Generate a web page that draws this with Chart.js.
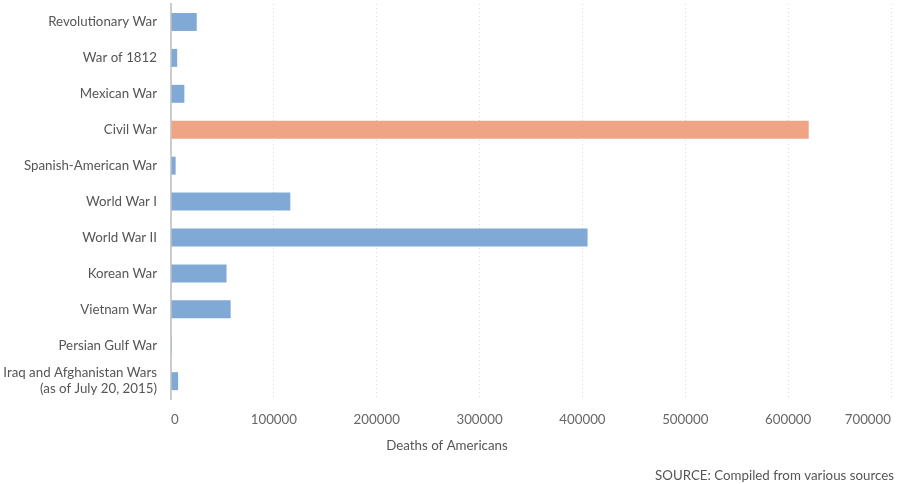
<!DOCTYPE html>
<html>
<head>
<meta charset="utf-8">
<script src="https://cdn.jsdelivr.net/npm/chart.js@4/dist/chart.umd.min.js"></script>
<style>
  html, body { margin: 0; padding: 0; background: #fff; }
  #wrap { width: 904px; height: 484px; }
</style>
</head>
<body>
<div id="wrap"><canvas id="warchart"></canvas></div>
<script>
// wars, top to bottom
var wars = [
    'Revolutionary War',
    'War of 1812',
    'Mexican War',
    'Civil War',
    'Spanish-American War',
    'World War I',
    'World War II',
    'Korean War',
    'Vietnam War',
    'Persian Gulf War',
    ['Iraq and Afghanistan Wars', '(as of July 20, 2015)']
]
var deaths = [25000, 6000, 13000, 620000, 4500, 116000, 405000, 54000, 58000, 150, 6900]
var xTicks = [0, 100000, 200000, 300000, 400000, 500000, 600000, 700000]

var blue = '#80a9d6'
var salmon = '#efa486'
var barColors = deaths.map(function (d, i) { return i === 3 ? salmon : blue })

Chart.defaults.font.family = 'Lato, "Open Sans", sans-serif'
Chart.defaults.color = '#666'

var config = {
    type: 'bar',
    data: {
        labels: wars,
        datasets: [{
            data: deaths,
            backgroundColor: barColors,
            borderColor: barColors,
            borderWidth: 0,
            barPercentage: 0.5,
            categoryPercentage: 1
        }]
    },
    options: {
        indexAxis: 'y',
        responsive: true,
        maintainAspectRatio: false,
        animation: false,
        layout: { padding: { left: 0, right: 10, top: 4, bottom: 0 } },
        plugins: {
            legend: { display: false },
            tooltip: { enabled: false },
            subtitle: {
                display: true,
                position: 'bottom',
                text: 'Deaths of Americans',
                color: '#555',
                font: { size: 13.3 },
                padding: { top: 10, bottom: 13 }
            },
            title: {
                display: true,
                position: 'bottom',
                align: 'end',
                text: 'SOURCE: Compiled from various sources',
                color: '#555',
                font: { size: 13.3, weight: 'normal' },
                padding: { top: 1, bottom: 0 }
            }
        },
        scales: {
            x: {
                min: 0,
                max: 700000,
                afterBuildTicks: function (scale) {
                    scale.ticks = xTicks.map(function (v) { return { value: v } })
                },
                afterFit: function (scale) { scale.height -= 13 },
                ticks: {
                    align: 'inner',
                    padding: 13,
                    color: '#666',
                    font: { size: 13.3 },
                    autoSkip: false,
                    maxRotation: 0,
                    callback: function (v) { return String(v) }
                },
                grid: {
                    color: function (c) { return c.index === 0 ? 'rgba(0,0,0,0)' : '#d9d9d9' },
                    lineWidth: 1,
                    drawTicks: false
                },
                border: { display: false, dash: [1, 3] }
            },
            y: {
                afterFit: function (scale) {
                    scale.width = 171
                    scale.paddingTop = 0
                    scale.paddingBottom = 0
                },
                ticks: {
                    padding: 14,
                    color: '#555',
                    autoSkip: false,
                    font: { size: 13.3 }
                },
                grid: { display: false, drawTicks: false },
                border: { display: true, color: '#cccccc', width: 2 }
            }
        }
    }
}

window.onload = function () {
    var ctx = document.getElementById('warchart').getContext('2d')
    window.warChart = new Chart(ctx, config)
}
</script>
</body>
</html>
